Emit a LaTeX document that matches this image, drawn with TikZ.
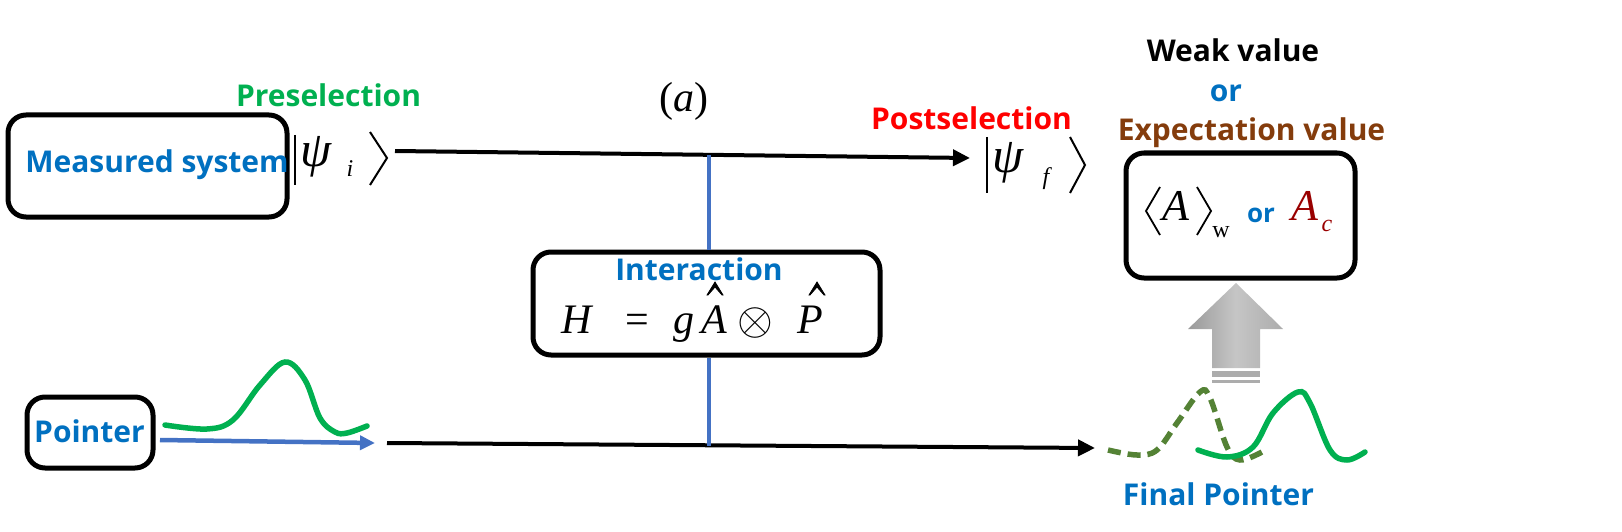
\documentclass[tikz,border=0pt]{standalone}
\usepackage{fontspec}
\setmainfont{Liberation Serif}
\setsansfont{Open Sans}
\usetikzlibrary{arrows.meta}
\definecolor{tblue}{HTML}{0070C0}
\definecolor{tgreen}{HTML}{00B050}
\definecolor{tred}{HTML}{FF0000}
\definecolor{tbrown}{HTML}{843C0C}
\definecolor{tdred}{HTML}{990000}
\definecolor{lblue}{HTML}{4472C4}
\definecolor{olive}{HTML}{548235}
\tikzset{
  lbl/.style={font=\sffamily\bfseries\fontsize{30}{30}\selectfont, inner sep=0pt, anchor=base},
  mth/.style={font=\fontsize{44}{44}\selectfont\itshape, inner sep=0pt, anchor=base},
  eqf/.style={font=\fontsize{42}{42}\selectfont\itshape, inner sep=0pt, anchor=base},
  sub/.style={font=\fontsize{24}{24}\selectfont\itshape, inner sep=0pt, anchor=base},
  rbox/.style={draw, line width=5pt, rounded corners=18pt, inner sep=0pt},
  bar/.style={line width=2.5pt},
  ket/.style={line width=2pt, line join=miter},
  hat/.style={fill, line width=0.8pt},
  mainarrow/.style={line width=4pt, -{Triangle[length=17pt,width=16pt]}},
  wave/.style={line width=5.5pt, line cap=round},
}
\begin{document}
\begin{tikzpicture}[x=1pt,y=-1pt]
\useasboundingbox (0,0) rectangle (1622,532);
% boxes
\node[rbox, minimum width=279pt, minimum height=102pt] (ms) at (147.5,166) {};
\node[rbox, minimum width=347pt, minimum height=103pt] (inter) at (706.5,303.5) {};
\node[rbox, minimum width=126pt, minimum height=71pt] (pt) at (90,432.5) {};
\node[rbox, minimum width=229pt, minimum height=125pt] (res) at (1240.5,215.5) {};
% labels
\node[lbl, text=tblue] (mstext) at (157,172) {Measured system};
\node[lbl, text=tgreen] (pre) at (328.5,107) {Preselection};
\node[lbl, text=tred] (post) at (971.5,130) {Postselection};
\node[lbl] (weak) at (1233,62) {Weak value};
\node[lbl, text=tblue] (or1) at (1226,102) {or};
\node[lbl, text=tbrown] (exp) at (1251.5,140) {Expectation value};
\node[lbl, text=tblue] (intext) at (699,280) {Interaction};
\node[lbl, text=tblue] (pttext) at (89.5,442) {Pointer};
\node[lbl, text=tblue] (fp) at (1218.5,505) {Final Pointer};
\node[font=\fontsize{42}{42}\selectfont, inner sep=0pt, anchor=base] (lab) at (684,112) {(\textit{a})};
% psi_i
\draw[bar] (295,135) -- (295,185);
\node[mth, font=\fontsize{50}{50}\selectfont\itshape] (psii) at (316,166) {ψ};
\node[sub] (subi) at (350,176) {i};
\draw[ket] (370,132) -- (387,158) -- (370,185);
% psi_f
\draw[bar] (987,137) -- (987,193);
\node[mth, font=\fontsize{50}{50}\selectfont\itshape] (psif) at (1008,172) {ψ};
\node[sub] (subf) at (1046,184) {f};
\draw[ket] (1070,137) -- (1085,165) -- (1070,193);
% equation
\node[eqf] (eqH) at (577,333) {H};
\node[eqf, font=\fontsize{42}{42}\selectfont] (eqeq) at (637,333) {=};
\node[eqf] (eqg) at (684,333) {g};
\node[eqf] (eqA) at (714,333) {A};
\node[inner sep=0pt] (eqo) at (755,323) {\scalebox{4.6}{$\otimes$}};
\node[eqf] (eqP) at (810,333) {P};
\draw[hat] (707,295) -- (715,282) -- (723,295) -- (722,295) -- (715,287) -- (708,295) -- cycle;
\draw[hat] (809,295) -- (817,282) -- (825,295) -- (824,295) -- (817,287) -- (810,295) -- cycle;
% result contents
\draw[line width=1.8pt] (1160,187) -- (1146,211) -- (1160,235);
\node[mth] (resA) at (1176,220) {A};
\draw[line width=1.8pt] (1197,187) -- (1211,211) -- (1197,235);
\node[sub, font=\fontsize{24}{24}\selectfont] (subw) at (1221,237) {w};
\node[lbl, text=tblue, font=\sffamily\bfseries\fontsize{26}{26}\selectfont] (or2) at (1261,222) {or};
\node[mth, text=tdred] (Ac) at (1305,220) {A};
\node[sub, text=tdred] (subc) at (1327,231) {c};
% main lines
\coordinate (t0) at (395,151);
\coordinate (t1) at (970,158);
\draw[mainarrow] (t0) -- (t1);
\coordinate (b0) at (387,443);
\coordinate (b1) at (1095,448);
\draw[mainarrow] (b0) -- (b1);
% vertical interaction line
\coordinate (j1) at (709,155);
\coordinate (j2) at (709,446);
\draw[lblue, line width=4pt] (j1) -- (j1 |- inter.north);
\draw[lblue, line width=4pt] (j2 |- inter.south) -- (j2);
% pointer arrow
\coordinate (p0) at (160,440);
\coordinate (p1) at (375,443);
\draw[lblue, line width=4.5pt, -{Triangle[length=15pt,width=14pt]}] (p0) -- (p1);
% waves
\draw[wave, tgreen] plot[smooth, tension=0.6] coordinates {(165,425) (207,429) (233,420) (260,385) (285,362) (305,380) (320,418) (335,432) (347,433) (367,426)};
\draw[wave, olive, dash pattern=on 13pt off 7pt, line cap=butt] plot[smooth, tension=0.6] coordinates {(1108,450) (1137,455) (1157,450) (1177,423) (1200,392) (1210,398) (1227,447) (1240,460) (1262,452)};
\draw[wave, tgreen] plot[smooth, tension=0.6] coordinates {(1198,450) (1227,457) (1253,447) (1273,413) (1298,392) (1310,403) (1330,450) (1347,460) (1365,452)};
% gray block arrow
\shade[left color=gray!80, right color=gray!65, middle color=gray!45] (1212,368) -- (1212,329) -- (1188,329) -- (1236,283) -- (1283,329) -- (1260,329) -- (1260,368) -- cycle;
\fill[gray!65] (1212,371) rectangle (1260,377);
\fill[gray!65] (1212,380) rectangle (1260,383);
\end{tikzpicture}
\end{document}
